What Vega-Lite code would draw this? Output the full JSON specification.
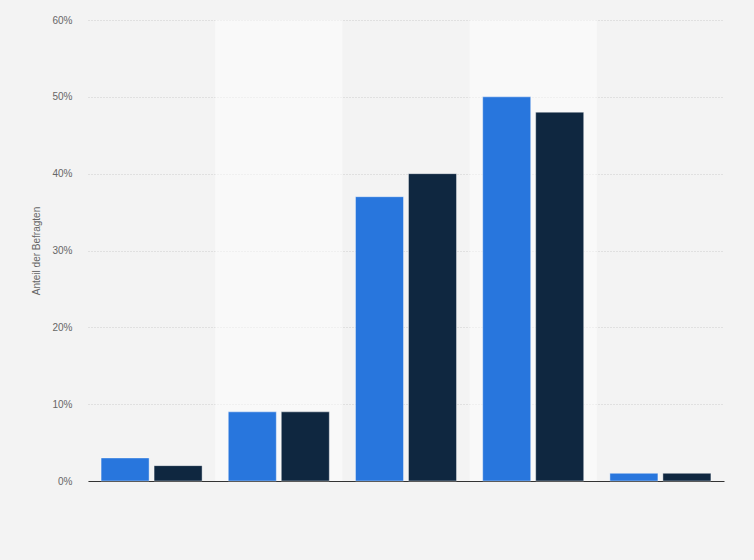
{
  "$schema": "https://vega.github.io/schema/vega-lite/v6.json",
  "width": 636,
  "height": 461,
  "autosize": {"type": "none"},
  "padding": {"left": 88, "top": 20, "right": 30, "bottom": 79},
  "background": "#f3f3f3",
  "config": {"view": {"stroke": null}, "font": "Arial, Liberation Sans, sans-serif"},
  "data": {
    "values": [
      {"kategorie": "Kategorie 1", "serie": "Serie 1", "anteil": 0.03, "band": "a"},
      {"kategorie": "Kategorie 1", "serie": "Serie 2", "anteil": 0.02, "band": "a"},
      {"kategorie": "Kategorie 2", "serie": "Serie 1", "anteil": 0.09, "band": "b"},
      {"kategorie": "Kategorie 2", "serie": "Serie 2", "anteil": 0.09, "band": "b"},
      {"kategorie": "Kategorie 3", "serie": "Serie 1", "anteil": 0.37, "band": "a"},
      {"kategorie": "Kategorie 3", "serie": "Serie 2", "anteil": 0.40, "band": "a"},
      {"kategorie": "Kategorie 4", "serie": "Serie 1", "anteil": 0.50, "band": "b"},
      {"kategorie": "Kategorie 4", "serie": "Serie 2", "anteil": 0.48, "band": "b"},
      {"kategorie": "Kategorie 5", "serie": "Serie 1", "anteil": 0.01, "band": "a"},
      {"kategorie": "Kategorie 5", "serie": "Serie 2", "anteil": 0.01, "band": "a"}
    ]
  },
  "encoding": {
    "x": {
      "field": "kategorie",
      "type": "nominal",
      "sort": null,
      "scale": {"domain": ["Kategorie 1", "Kategorie 2", "Kategorie 3", "Kategorie 4", "Kategorie 5"], "paddingInner": 0, "paddingOuter": 0},
      "axis": {"title": null, "labels": false, "ticks": false, "domain": true, "domainColor": "#333333", "domainWidth": 1, "grid": false}
    }
  },
  "layer": [
    {
      "transform": [{"filter": "datum.band === 'b' && datum.serie === 'Serie 1'"}],
      "mark": {"type": "bar", "color": "#ffffff", "opacity": 0.5},
      "encoding": {
        "y": {"datum": 0.6, "type": "quantitative"},
        "y2": {"datum": 0}
      }
    },
    {
      "mark": {"type": "bar", "stroke": "#ffffff", "strokeWidth": 1, "strokeOpacity": 0.4},
      "encoding": {
        "xOffset": {"field": "serie", "type": "nominal", "scale": {"paddingInner": 0.094, "paddingOuter": 0.247}},
        "y": {
          "field": "anteil",
          "type": "quantitative",
          "scale": {"domain": [0, 0.6], "nice": false},
          "axis": {
            "title": "Anteil der Befragten",
            "titleFont": "Arial, Liberation Sans, sans-serif",
            "titleFontSize": 10,
            "titleFontWeight": "normal",
            "titleColor": "#666666",
            "titlePadding": 10,
            "format": ".0%",
            "values": [0, 0.1, 0.2, 0.3, 0.4, 0.5, 0.6],
            "labelFontSize": 10,
            "labelColor": "#666666",
            "labelPadding": 16,
            "ticks": false,
            "domain": false,
            "grid": true,
            "gridColor": "#cccccc",
            "gridDash": [1, 2],
            "gridWidth": 1
          }
        },
        "color": {
          "field": "serie",
          "type": "nominal",
          "scale": {"domain": ["Serie 1", "Serie 2"], "range": ["#2876dd", "#0f2740"]},
          "legend": null
        }
      }
    }
  ]
}
